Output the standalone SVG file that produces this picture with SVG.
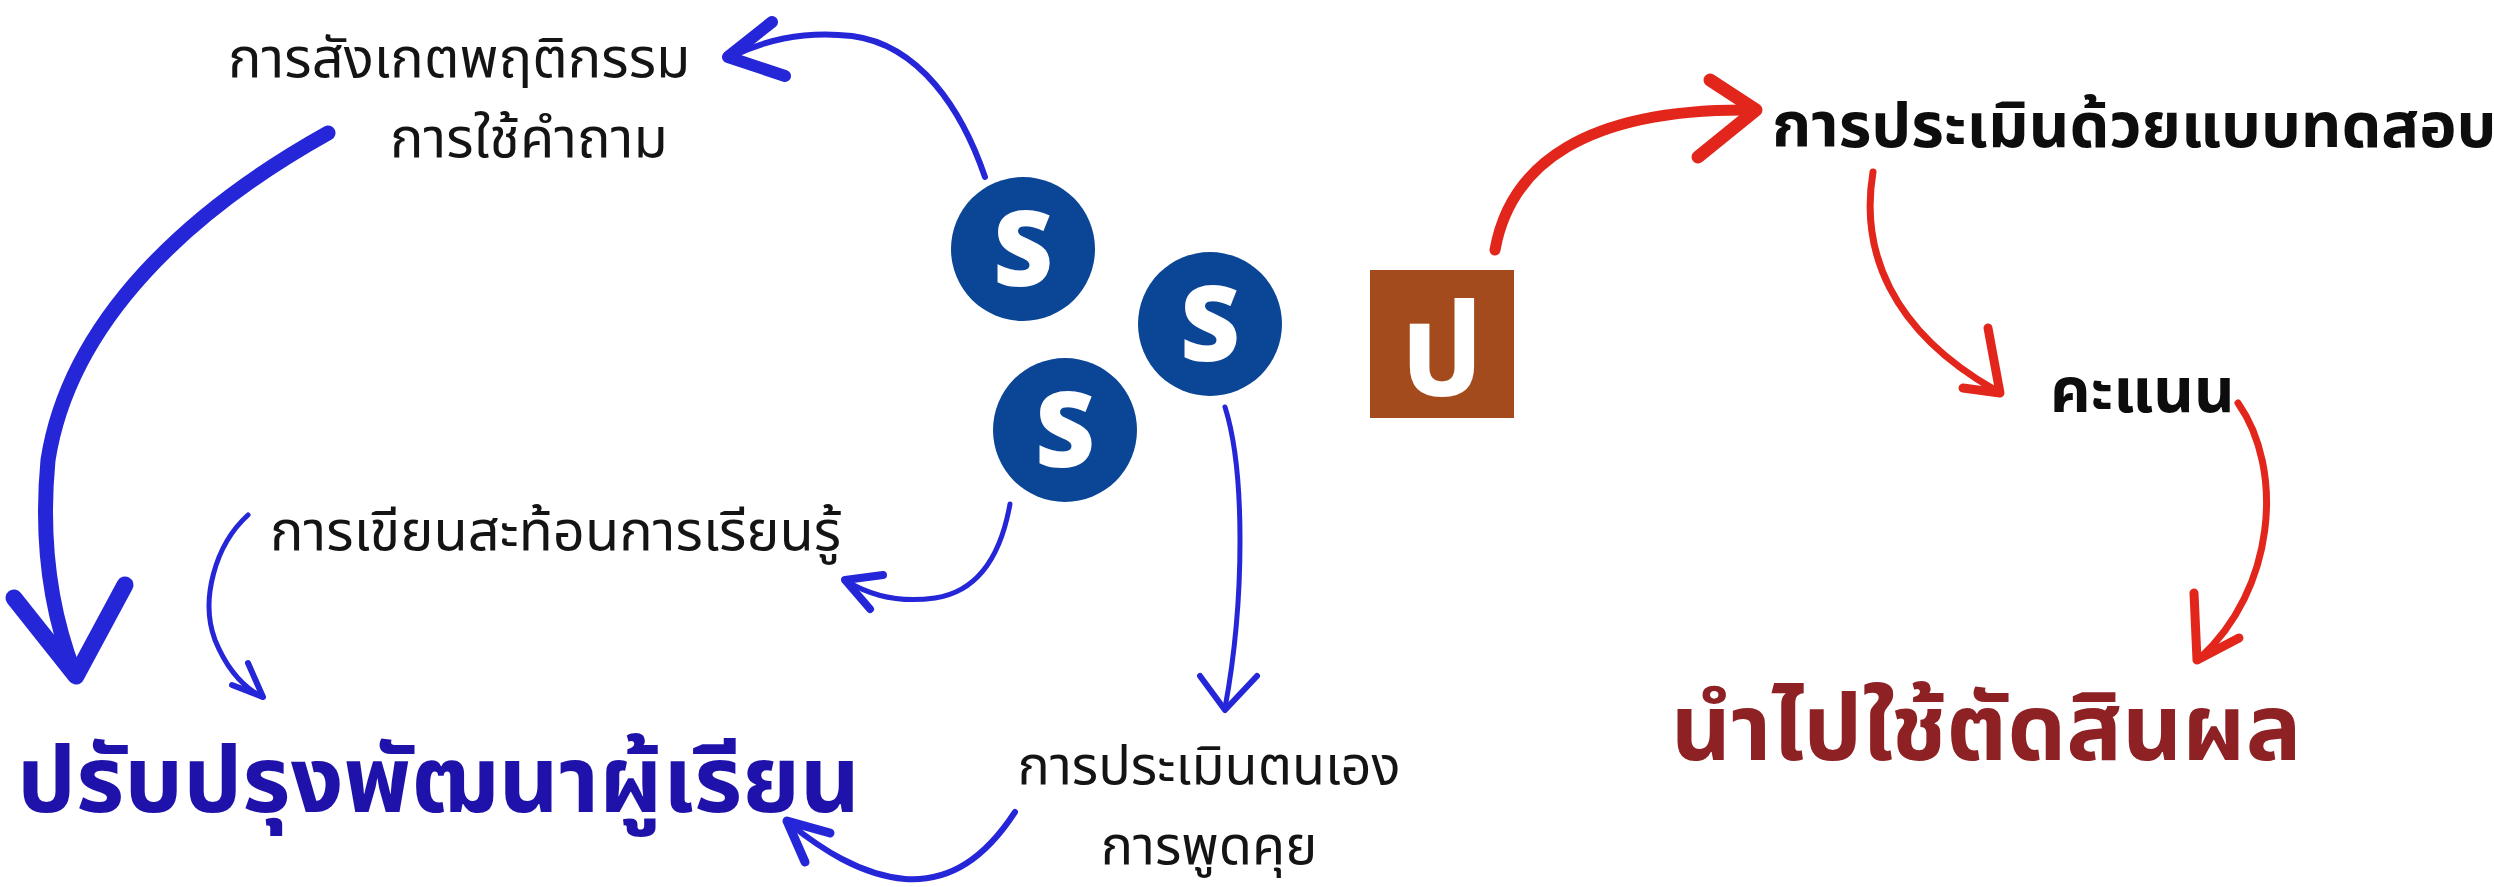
<svg xmlns="http://www.w3.org/2000/svg" width="2494" height="887" viewBox="0 0 2494 887">
<style>
.th{font-family:"Noto Sans Thai","Noto Sans Thai UI","Noto Sans","Liberation Sans",sans-serif;}
.reg{font-size:56px;fill:#141414;}
.sm{font-size:54px;fill:#141414;}
.bk{font-size:63px;font-weight:700;fill:#0d0d0d;}
.big{font-size:93px;font-weight:700;}
.blue{stroke:#2626d9;fill:none;stroke-linecap:round;stroke-linejoin:round;}
.red{stroke:#e3261b;fill:none;stroke-linecap:round;stroke-linejoin:round;}
.circ{fill:#0b4596;}
.sl{font-family:"Open Sans","Liberation Sans",sans-serif;font-weight:800;font-size:104px;fill:#ffffff;text-anchor:middle;}
</style>
<rect width="2494" height="887" fill="#ffffff"/>
<g id="connectors">
  <g id="c-top">
    <path class="blue" stroke-width="6" d="M 985 177 C 962 110, 920 45, 852 36 C 800 30, 762 42, 732 56"/>
    <path class="blue" stroke-width="12" d="M 772 22 L 728 57 L 785 76"/>
  </g>
  <g id="c-big">
    <path class="blue" stroke-width="15" d="M 328 133 C 190 210, 70 320, 48 460 C 40 545, 52 615, 74 672"/>
    <path class="blue" stroke-width="17" d="M 14 598 L 76 676 L 125 585"/>
  </g>
  <g id="c-thin">
    <path class="blue" stroke-width="5" d="M 248 515 C 215 545, 200 600, 215 640 C 228 672, 245 688, 262 697"/>
    <path class="blue" stroke-width="6" d="M 248 663 L 263 697 L 232 685"/>
  </g>
  <g id="c-s3">
    <path class="blue" stroke-width="5" d="M 1010 504 C 1000 560, 975 592, 935 598 C 900 603, 870 595, 848 582"/>
    <path class="blue" stroke-width="8" d="M 883 575 L 845 580 L 870 609"/>
  </g>
  <g id="c-s2">
    <path class="blue" stroke-width="5" d="M 1225 407 C 1245 470, 1245 600, 1225 708"/>
    <path class="blue" stroke-width="6" d="M 1200 676 L 1225 710 L 1257 676"/>
  </g>
  <g id="c-back">
    <path class="blue" stroke-width="6" d="M 1015 812 C 985 858, 950 882, 905 879 C 860 875, 820 848, 790 824"/>
    <path class="blue" stroke-width="9" d="M 830 833 L 787 821 L 805 862"/>
  </g>
  <g id="c-r1">
    <path class="red" stroke-width="11" d="M 1495 250 C 1510 165, 1585 108, 1752 110"/>
    <path class="red" stroke-width="13" d="M 1710 80 L 1756 110 L 1698 157"/>
  </g>
  <g id="c-r2">
    <path class="red" stroke-width="7" d="M 1873 172 C 1860 250, 1890 330, 1995 390"/>
    <path class="red" stroke-width="9" d="M 1988 328 L 2000 393 L 1963 388"/>
  </g>
  <g id="c-r3">
    <path class="red" stroke-width="7" d="M 2238 403 C 2285 470, 2275 590, 2200 658"/>
    <path class="red" stroke-width="9" d="M 2194 593 L 2197 660 L 2239 638"/>
  </g>
</g>
<g id="n-observe">
  <text class="th reg" x="228" y="77">การสังเกตพฤติกรรม</text>
  <text class="th reg" x="390" y="157">การใช้คำถาม</text>
</g>
<g id="n-reflect">
  <text class="th reg" x="270" y="550">การเขียนสะท้อนการเรียนรู้</text>
</g>
<g id="n-improve">
  <text class="th big" x="17" y="812" fill="#1f12aa">ปรับปรุงพัฒนาผู้เรียน</text>
</g>
<g id="n-self">
  <text class="th sm" x="1209" y="784" text-anchor="middle">การประเมินตนเอง</text>
  <text class="th sm" x="1209" y="864" text-anchor="middle">การพูดคุย</text>
</g>
<g id="n-s1"><circle class="circ" cx="1023" cy="249" r="72"/><text class="sl" x="1023" y="286">S</text></g>
<g id="n-s2"><circle class="circ" cx="1210" cy="324" r="72"/><text class="sl" x="1210" y="361">S</text></g>
<g id="n-s3"><circle class="circ" cx="1065" cy="430" r="72"/><text class="sl" x="1065" y="467">S</text></g>
<g id="n-p">
  <rect x="1370" y="270" width="144" height="148" fill="#a44b1d"/>
  <text class="th" x="1442" y="395" text-anchor="middle" font-size="130" font-weight="700" fill="#ffffff">ป</text>
</g>
<g id="n-test">
  <text class="th bk" x="1772" y="147">การประเมินด้วยแบบทดสอบ</text>
</g>
<g id="n-score">
  <text class="th bk" x="2050" y="412">คะแนน</text>
</g>
<g id="n-judge">
  <text class="th big" x="1671" y="760" fill="#8e2124">นำไปใช้ตัดสินผล</text>
</g>
</svg>
